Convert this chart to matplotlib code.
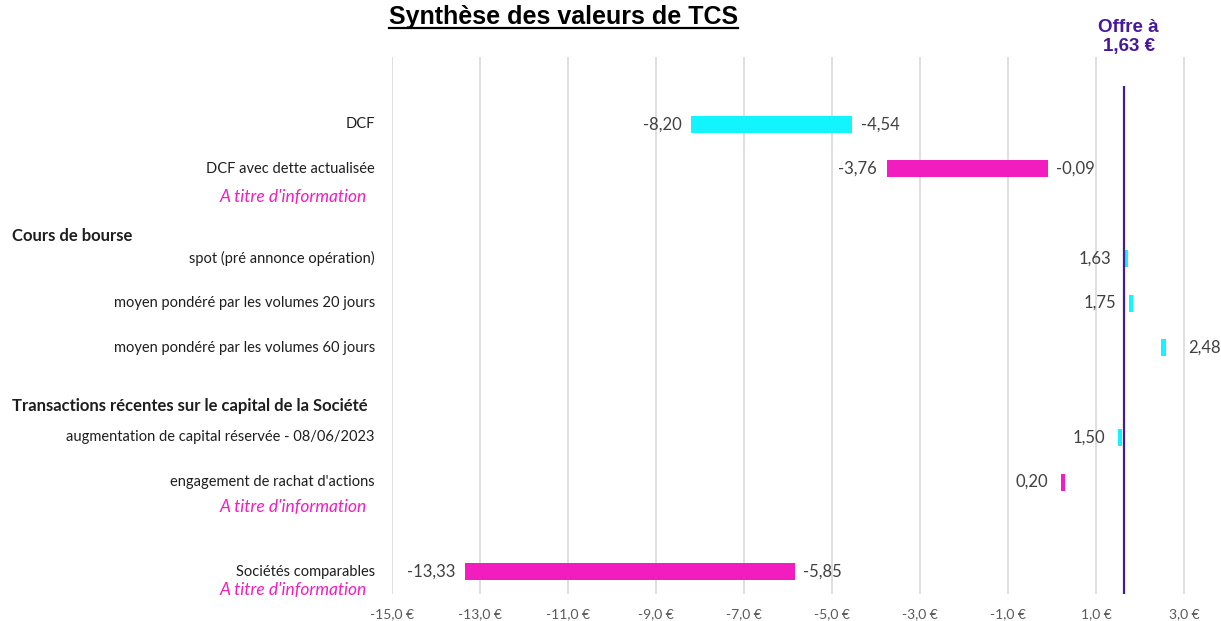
import matplotlib
matplotlib.use("Agg")
import matplotlib.pyplot as plt
import numpy as np
from matplotlib.ticker import FuncFormatter, FixedLocator
from matplotlib.transforms import blended_transform_factory
from matplotlib.lines import Line2D

# ---------------- data ----------------
categories = ["", "DCF", "DCF avec dette actualisée", "",
              "spot (pré annonce opération)",
              "moyen pondéré par les volumes 20 jours",
              "moyen pondéré par les volumes 60 jours", "",
              "augmentation de capital réservée - 08/06/2023",
              "engagement de rachat d'actions", "",
              "Sociétés comparables"]
low_values = [-8.20, -3.76, 1.63, 1.75, 2.48, 1.50, 0.20, -13.33]
high_values = [-4.54, -0.09, np.nan, np.nan, np.nan, np.nan, np.nan, -5.85]
informative = [False, True, False, False, False, False, True, True]
single_label_right = [False, False, False, False, True, False, False, False]
section_headers = ["Cours de bourse",
                   "Transactions récentes sur le capital de la Société"]
offer_price = 1.63
x_ticks = [-15, -13, -11, -9, -7, -5, -3, -1, 1, 3]
title = "Synthèse des valeurs de TCS"
info_text = "A titre d'information"

# ---------------- style ----------------
CYAN = "#12F5FF"
MAGENTA = "#F21DBE"
PURPLE = "#47199A"
GRID = "#D9D9D9"
TXT = "#1E1E1E"
VAL = "#404040"
FONT = "Lato"
SINGLE_W = 0.1
BAR_H = 0.38

fig = plt.figure(figsize=(12.21, 6.21), dpi=100)
ax = fig.add_axes([0.3210, 0.0435, 0.6631, 0.8647])
ax.set_xlim(-15, 3.4)
ax.set_ylim(len(categories) - 0.5, -0.5)

named_rows = [i for i, c in enumerate(categories) if c]
for row, lo, hi, info, right in zip(named_rows, low_values, high_values,
                                    informative, single_label_right):
    color = MAGENTA if info else CYAN
    if np.isnan(hi):
        ax.barh(row, SINGLE_W, left=lo, height=BAR_H, color=color, zorder=3)
        txt = f"{lo:.2f}".replace(".", ",")
        if right:
            ax.annotate(txt, (lo + SINGLE_W, row), xytext=(16, 0),
                        textcoords="offset points", ha="left", va="center",
                        fontsize=12, color=VAL, family=FONT)
        else:
            ax.annotate(txt, (lo, row), xytext=(-9, 0),
                        textcoords="offset points", ha="right", va="center",
                        fontsize=12, color=VAL, family=FONT)
    else:
        ax.barh(row, hi - lo, left=lo, height=BAR_H, color=color, zorder=3)
        ax.annotate(f"{lo:.2f}".replace(".", ","), (lo, row), xytext=(-7, 0),
                    textcoords="offset points", ha="right", va="center",
                    fontsize=12, color=VAL, family=FONT)
        ax.annotate(f"{hi:.2f}".replace(".", ","), (hi, row), xytext=(6, 0),
                    textcoords="offset points", ha="left", va="center",
                    fontsize=12, color=VAL, family=FONT)

# offer line
ax.plot([offer_price, offer_price], [0.15, len(categories) - 0.5],
        color=PURPLE, lw=1.6, zorder=4, solid_capstyle="butt")

# axes styling
for s in ax.spines.values():
    s.set_visible(False)
ax.xaxis.set_major_locator(FixedLocator(x_ticks))
ax.xaxis.set_major_formatter(FuncFormatter(
    lambda v, p: f"{v:.1f}".replace(".", ",") + " €"))
ax.tick_params(axis="x", length=0, pad=10, labelsize=10, labelcolor="#595959")
for lab in ax.get_xticklabels():
    lab.set_family(FONT)
ax.set_yticks([])
ax.grid(axis="x", color=GRID, lw=1.2, zorder=0)
ax.set_axisbelow(True)

# category labels
tr = blended_transform_factory(fig.transFigure, ax.transData)
for row in named_rows:
    ax.text(0.307, row, categories[row], transform=tr, ha="right",
            va="center", fontsize=10.5, color=TXT, family=FONT)
note_offsets = [0.62, 0.56, 0.42]
info_rows = [r for r, i in zip(named_rows, informative) if i]
for r, off in zip(info_rows, note_offsets):
    ax.text(0.3006, r + off, info_text, transform=tr, ha="right", va="center",
            fontsize=12.5, color=MAGENTA, style="italic", family=FONT)
blank_rows = [i for i, c in enumerate(categories) if not c][1:3]
header_offsets = [0.5, 0.3]
for r, off, h in zip(blank_rows, header_offsets, section_headers):
    ax.text(0.0098, r + off, h, transform=tr, ha="left", va="center",
            fontsize=12, color=TXT, weight="bold", family=FONT)

# title with underline
t = fig.text(0.4615, 1 - 17 / 621, title, ha="center", va="center",
             fontsize=18, weight="bold", family="Liberation Sans", color="black")
fig.canvas.draw()
bb = t.get_window_extent(renderer=fig.canvas.get_renderer())
W, H = fig.bbox.width, fig.bbox.height
uy = 1 - 28 / 621
fig.add_artist(Line2D([bb.x0 / W, bb.x1 / W], [uy, uy], color="black",
                      lw=1.6, transform=fig.transFigure))

# offer annotation
ax_tr = blended_transform_factory(ax.transData, fig.transFigure)
ax.annotate(f"Offre à\n{offer_price:.2f} €".replace(".", ","),
            (offer_price, 1 - 37 / 621), xycoords=ax_tr,
            xytext=(3.5, 0), textcoords="offset points",
            ha="center", va="center", fontsize=13.5,
            weight="bold", family="Liberation Sans", color=PURPLE,
            linespacing=1.15, annotation_clip=False)

fig.savefig("out.png", dpi=100)
